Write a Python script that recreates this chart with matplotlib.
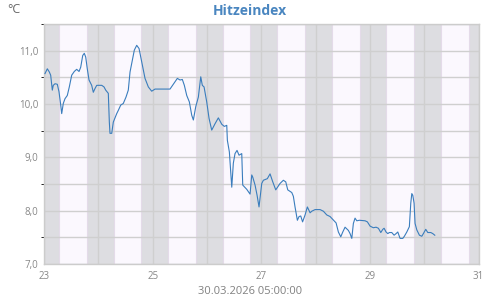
"""
Hitzeindex -- Wochenverlauf mit Tag/Nacht-Schattierung
"""
import matplotlib
matplotlib.use("Agg")
import matplotlib.pyplot as plt
from matplotlib.ticker import MultipleLocator, FuncFormatter

plt.rcParams["font.family"] = ["Open Sans", "DejaVu Sans"]

# ── Daten (Tag im März als Dezimalzahl, Hitzeindex in °C) ─────────────────
days = [
    23.018, 23.061, 23.098, 23.123, 23.153, 23.171, 23.203, 23.245, 23.276, 23.308,
    23.326, 23.355, 23.387, 23.429, 23.466, 23.510, 23.558, 23.602, 23.645, 23.676,
    23.713, 23.742, 23.768, 23.797, 23.829, 23.878, 23.908, 23.939, 23.971, 24.063,
    24.105, 24.136, 24.184, 24.203, 24.215, 24.247, 24.276, 24.339, 24.368, 24.413,
    24.460, 24.510, 24.552, 24.584, 24.663, 24.707, 24.750, 24.799, 24.860, 24.921,
    24.983, 25.044, 25.320, 25.381, 25.455, 25.505, 25.547, 25.584, 25.628, 25.676,
    25.720, 25.750, 25.794, 25.842, 25.886, 25.915, 25.947, 25.996, 26.039, 26.088,
    26.149, 26.210, 26.273, 26.320, 26.365, 26.376, 26.413, 26.438, 26.457, 26.486,
    26.517, 26.554, 26.591, 26.641, 26.659, 26.733, 26.794, 26.825, 26.843, 26.886,
    26.923, 26.959, 27.009, 27.039, 27.112, 27.162, 27.212, 27.267, 27.346, 27.407,
    27.451, 27.488, 27.562, 27.591, 27.622, 27.665, 27.696, 27.727, 27.761, 27.807,
    27.849, 27.899, 27.930, 27.991, 28.083, 28.144, 28.206, 28.267, 28.322, 28.378,
    28.420, 28.464, 28.501, 28.543, 28.604, 28.635, 28.667, 28.696, 28.727, 28.759,
    28.807, 28.912, 28.954, 29.004, 29.064, 29.114, 29.157, 29.201, 29.238, 29.262,
    29.298, 29.330, 29.359, 29.403, 29.446, 29.483, 29.514, 29.556, 29.606, 29.635,
    29.680, 29.727, 29.753, 29.772, 29.790, 29.814, 29.832, 29.864, 29.912, 29.956,
    29.985, 30.029, 30.066, 30.122, 30.158, 30.195,
]
heat_index = [
    10.57, 10.66, 10.60, 10.54, 10.26, 10.35, 10.38, 10.37, 10.23, 9.98,
    9.82, 10.01, 10.10, 10.16, 10.32, 10.54, 10.61, 10.65, 10.61, 10.69,
    10.91, 10.95, 10.88, 10.66, 10.45, 10.35, 10.22, 10.29, 10.35, 10.35,
    10.32, 10.26, 10.20, 9.66, 9.45, 9.45, 9.66, 9.82, 9.88, 9.98,
    10.01, 10.13, 10.26, 10.60, 11.01, 11.10, 11.04, 10.79, 10.48, 10.32,
    10.24, 10.28, 10.28, 10.37, 10.48, 10.45, 10.46, 10.35, 10.16, 10.04,
    9.79, 9.70, 9.95, 10.13, 10.51, 10.35, 10.32, 10.04, 9.73, 9.51,
    9.63, 9.74, 9.62, 9.58, 9.60, 9.32, 9.10, 8.73, 8.44, 8.89,
    9.07, 9.13, 9.04, 9.07, 8.48, 8.40, 8.31, 8.67, 8.63, 8.48,
    8.29, 8.07, 8.51, 8.57, 8.60, 8.69, 8.54, 8.39, 8.51, 8.57,
    8.54, 8.39, 8.34, 8.27, 8.07, 7.82, 7.89, 7.90, 7.79, 7.92,
    8.07, 7.96, 7.99, 8.02, 8.02, 7.99, 7.92, 7.89, 7.83, 7.77,
    7.60, 7.51, 7.60, 7.69, 7.63, 7.57, 7.48, 7.76, 7.86, 7.81,
    7.82, 7.81, 7.79, 7.71, 7.68, 7.69, 7.67, 7.59, 7.65, 7.67,
    7.60, 7.57, 7.59, 7.59, 7.54, 7.57, 7.60, 7.48, 7.48, 7.52,
    7.60, 7.70, 8.14, 8.32, 8.29, 8.14, 7.76, 7.64, 7.54, 7.52,
    7.57, 7.65, 7.59, 7.59, 7.57, 7.54,
]

# Sonnenaufgang / -untergang (Tag als Dezimalzahl)
sunrise = [23.28, 24.28, 25.29, 26.29, 27.285, 28.30, 29.30, 30.31]
sunset  = [23.79, 24.79, 25.80, 26.79, 27.81, 28.82, 29.81, 30.83]

x_ticks = [23, 25, 27, 29, 31]
timestamp = "30.03.2026 05:00:00"

# ── Plot ──────────────────────────────────────────────────────────────────
fig = plt.figure(figsize=(5, 3), dpi=100)
ax = fig.add_axes([0.088, 0.12, 0.869, 0.80])

x0, x1 = 23, 31
ax.set_xlim(x0, x1)
ax.set_ylim(7.0, 11.5)

# Nacht = grau, Tag = helles Lavendel
ax.axvspan(x0, x1, color="#dddde1", lw=0, zorder=0)
for a, b in zip(sunrise, sunset):
    ax.axvspan(a, min(b, x1), facecolor="#fbf8fe",
               edgecolor="#e4dbe9", lw=0.8, zorder=0.5)

# Gitter
ax.yaxis.set_major_locator(MultipleLocator(1.0))
ax.yaxis.set_minor_locator(MultipleLocator(0.5))
ax.xaxis.set_major_locator(MultipleLocator(1))
ax.grid(True, which="both", axis="y", color="#cfcfcf", lw=1.0, zorder=1)
ax.grid(True, which="major", axis="x", color="#cfcfcf", lw=1.0, zorder=1)
ax.set_axisbelow(True)

ax.plot(days, heat_index, color="#3a7dbd", lw=0.8, zorder=3)

ax.set_xticks(range(x0, x1 + 1))
ax.set_xticklabels([str(d) if d in x_ticks else "" for d in range(x0, x1 + 1)])
ax.yaxis.set_major_formatter(
    FuncFormatter(lambda v, _: f"{v:.1f}".replace(".", ",")))
ax.tick_params(axis="both", length=0, labelsize=7, colors="#888888")
ax.tick_params(axis="x", pad=5)
ax.tick_params(axis="y", pad=4)

for s in ax.spines.values():
    s.set_color("#cccccc")
    s.set_linewidth(1.0)

fig.text(0.5, 0.962, "Hitzeindex", ha="center", va="center",
         fontsize=10, fontweight="bold", color="#4a86c0")
fig.text(0.014, 0.968, "°C", ha="left", va="center",
         fontsize=9, color="#666666")
fig.text(0.5, 0.027, timestamp, ha="center", va="center",
         fontsize=8, color="#808080")

fig.savefig("out.png", dpi=100)
plt.close(fig)
